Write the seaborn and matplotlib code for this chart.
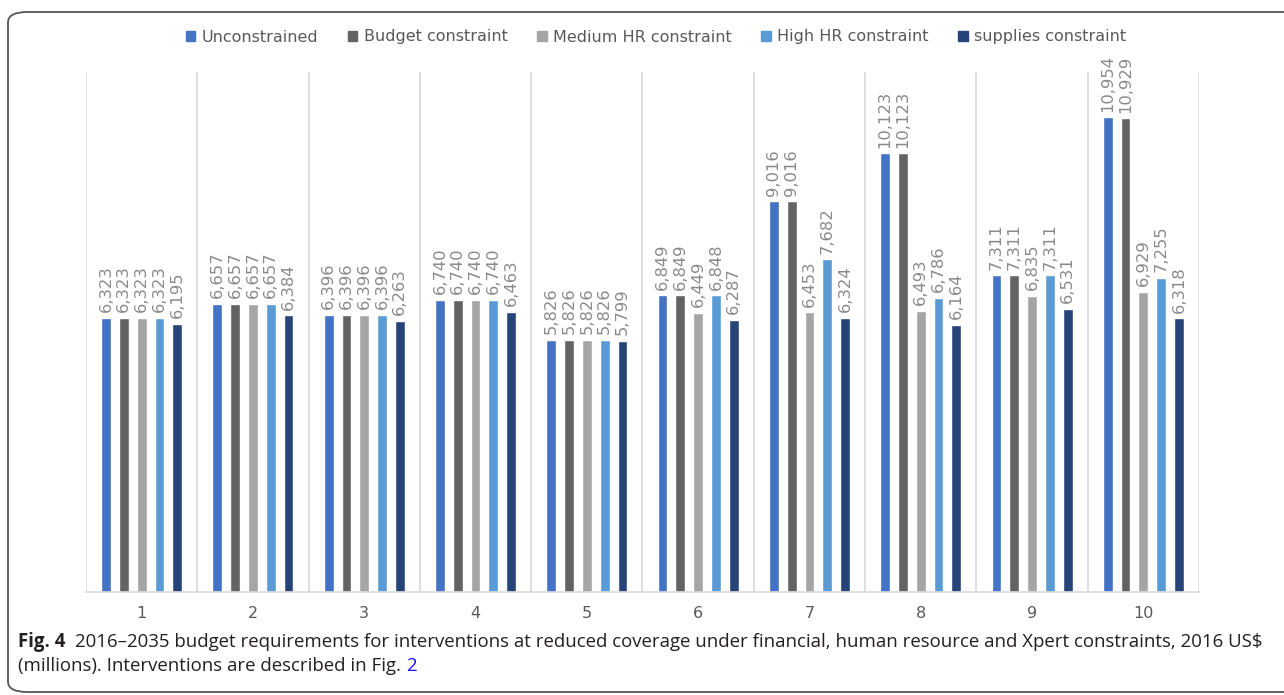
import numpy as np
import pandas as pd
import seaborn as sns
import matplotlib.pyplot as plt
from matplotlib.patches import FancyBboxPatch, Patch

interventions = ['1', '2', '3', '4', '5', '6', '7', '8', '9', '10']
scenarios = ['Unconstrained', 'Budget constraint', 'Medium HR constraint',
             'High HR constraint', 'supplies constraint']
colors = ['#4472C4', '#636363', '#A5A5A5', '#5B9BD5', '#264478']

unconstrained = [6323, 6657, 6396, 6740, 5826, 6849, 9016, 10123, 7311, 10954]
budget = [6323, 6657, 6396, 6740, 5826, 6849, 9016, 10123, 7311, 10929]
medium_hr = [6323, 6657, 6396, 6740, 5826, 6449, 6453, 6493, 6835, 6929]
high_hr = [6323, 6657, 6396, 6740, 5826, 6848, 7682, 6786, 7311, 7255]
supplies = [6195, 6384, 6263, 6463, 5799, 6287, 6324, 6164, 6531, 6318]

series = [unconstrained, budget, medium_hr, high_hr, supplies]
rows = []
for name, vals in zip(scenarios, series):
    for cat, v in zip(interventions, vals):
        rows.append({'intervention': cat, 'scenario': name, 'value': v})
df = pd.DataFrame(rows)

sns.set_style('white')
plt.rcParams['font.family'] = ['DejaVu Sans']

fig = plt.figure(figsize=(12.84, 6.95), dpi=100)
ax = fig.add_axes([86 / 1284, 1 - 592 / 695, (1199 - 86) / 1284, (592 - 72) / 695])

sns.barplot(data=df, x='intervention', y='value', hue='scenario',
            order=interventions, hue_order=scenarios, palette=colors,
            width=0.8, gap=0.45, legend=False, ax=ax, saturation=1)

for cont in ax.containers:
    ax.bar_label(cont, labels=[f'{v:,.0f}' for v in cont.datavalues],
                 rotation=90, padding=4, fontsize=11.8, color='#8a8a8a')

ax.set_ylim(0, 12000)
ax.set_xlim(-0.5, 9.5)
ax.set_yticks([])
ax.set_xlabel('')
ax.set_ylabel('')
ax.set_xticks(np.arange(-0.5, 10, 1), minor=True)
ax.grid(which='minor', axis='x', color='#d9d9d9', linewidth=1.2)
ax.tick_params(axis='x', which='both', length=0, labelsize=11.5,
               labelcolor='#595959', pad=10)
for s in ['top', 'left', 'right']:
    ax.spines[s].set_visible(False)
ax.spines['bottom'].set_color('#d9d9d9')
ax.spines['bottom'].set_linewidth(1.2)

handles = [Patch(color=c, label=l) for c, l in zip(colors, scenarios)]
fig.legend(handles=handles, loc='center', bbox_to_anchor=(656 / 1284, 1 - 37 / 695),
           ncol=5, frameon=False, fontsize=11.5, handlelength=0.6, handleheight=0.6,
           handletextpad=0.4, columnspacing=1.85, labelcolor='#595959')

# rounded frame around figure
frame = FancyBboxPatch((8 / 1284, 1 - 692 / 695), 1.05, (692 - 12) / 695,
                       boxstyle='round,pad=0,rounding_size=0.015',
                       transform=fig.transFigure, fill=False,
                       edgecolor='#555555', linewidth=1.3, clip_on=False)
fig.patches.append(frame)

# caption
cap_font = 'Open Sans'
cap_size = 13.4
t1 = fig.text(18 / 1284, 1 - 647 / 695, 'Fig. 4', fontsize=cap_size, fontweight='bold',
              family=cap_font, color='#231f20', va='baseline')
fig.canvas.draw()
r = fig.canvas.get_renderer()
bb = t1.get_window_extent(r)
fig.text((bb.x1 + 10) / 1284, 1 - 647 / 695,
         '2016–2035 budget requirements for interventions at reduced coverage under '
         'financial, human resource and Xpert constraints, 2016 US$',
         fontsize=cap_size, family=cap_font, color='#231f20', va='baseline')
t3 = fig.text(18 / 1284, 1 - 671 / 695, '(millions). Interventions are described in Fig. ',
              fontsize=cap_size, family=cap_font, color='#231f20', va='baseline')
fig.canvas.draw()
bb3 = t3.get_window_extent(r)
fig.text(bb3.x1 / 1284, 1 - 671 / 695, '2', fontsize=cap_size, family=cap_font,
         color='#1a0dff', va='baseline')

fig.savefig('out.png', dpi=100)
